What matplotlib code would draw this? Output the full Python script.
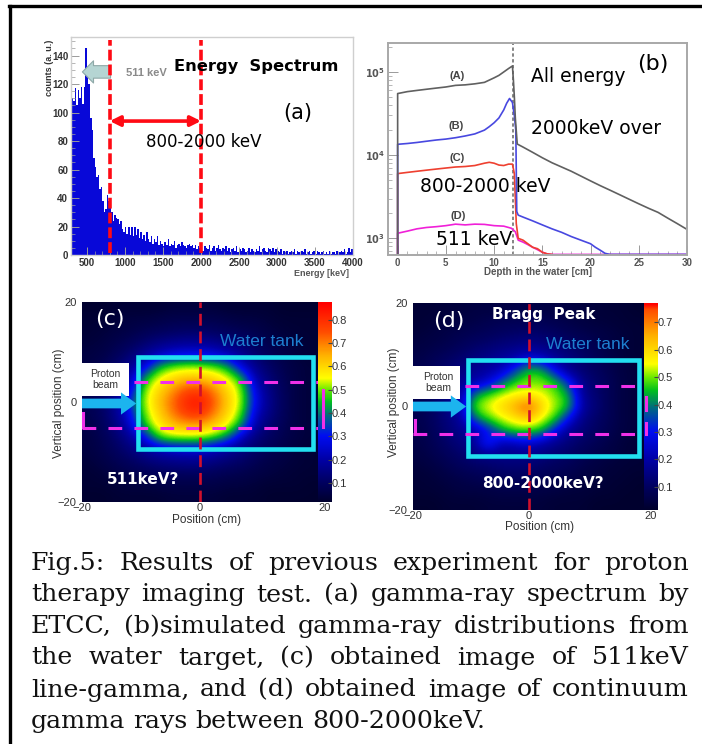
import numpy as np
import matplotlib
matplotlib.use("Agg")
import matplotlib.pyplot as plt
from matplotlib.colors import LinearSegmentedColormap
from matplotlib.patches import Rectangle, FancyArrowPatch
from matplotlib.lines import Line2D

W, H = 702, 744

# --- panel (a) spectrum: counts per 20 keV bin from 300 keV
spec_start = 300
spec_step = 20
spec_counts = [
 110,108,117,105,116,110,118,106,118,145,130,120,96,88,68,62,55,56,46,48,
 38,30,32,42,38,35,30,24,28,26,25,22,24,18,16,20,15,20,14,20,
 13,20,14,18,12,16,11,14,10,16,11,9,13,8,11,9,13,7,10,8,
 6,9,7,11,6,8,7,10,5,7,8,6,9,7,6,5,7,8,6,7,
 5,7,4,6,5,8,3,6,5,4,7,3,5,6,3,5,7,4,3,5,
 4,6,3,5,2,4,5,3,6,2,4,3,5,4,2,3,5,2,4,3,
 2,4,3,6,2,4,5,3,2,5,4,3,5,2,4,3,2,4,1,3,
 2,3,1,2,3,2,4,1,3,2,1,3,2,4,1,2,3,1,2,3,
 1,3,2,1,2,3,1,2,1,3,1,2,2,1,3,1,2,3,2,4,1,2,5,2,4
]

# --- panel (b) curves: depth [cm], gamma counts
dA = [0,0,1,2,3,4,5,6,7,8,9,10,10.5,11,11.5,11.9,12.0,12.1,12.2,12.4,13,14,15,16,17,18,19,20,21,22,23,24,25,26,27,28,29,30]
vA = [640,5.5e4,5.8e4,6e4,6.2e4,6.4e4,6.6e4,6.9e4,7e4,7.2e4,7.5e4,8.5e4,9.1e4,1e5,1.1e5,1.18e5,8e4,5e4,2.8e4,1.36e4,1.25e4,1.08e4,9.3e3,8.1e3,7.2e3,6.4e3,5.6e3,4.9e3,4.3e3,3.8e3,3.35e3,2.95e3,2.6e3,2.3e3,2.05e3,1.75e3,1.5e3,1.28e3]
dB = [0,0,1,2,3,4,5,6,7,8,9,9.5,10,10.5,11,11.3,11.6,11.9,12.1,12.25,12.35,12.5,13,14,15,16,17,18,19,20,20.5,21,21.5,22,30]
vB = [640,1.35e4,1.38e4,1.42e4,1.47e4,1.52e4,1.56e4,1.62e4,1.7e4,1.8e4,2e4,2.2e4,2.45e4,2.8e4,3.5e4,4.2e4,4.8e4,4.3e4,3e4,2e4,2.1e3,1.9e3,1.8e3,1.62e3,1.45e3,1.3e3,1.18e3,1.05e3,950,860,780,720,660,640,640]
dC = [0,0,1,2,3,4,5,6,7,8,9,9.5,10,10.5,11,11.5,11.9,12.1,12.3,12.5,13,13.5,14,14.5,15,15.5,16]
vC = [640,6e3,6.2e3,6.4e3,6.6e3,6.8e3,7e3,7.2e3,7.3e3,7.5e3,8e3,8.2e3,8e3,7.6e3,7.5e3,7.8e3,7.8e3,6e3,1.5e3,1e3,950,860,780,750,680,650,640]
dD = [0,0,1,2,3,4,5,6,7,8,9,10,11,11.8,12.2,12.5,13,13.5,14,14.5,15,15.5,16,30]
vD = [640,1150,1220,1300,1350,1380,1420,1480,1450,1480,1470,1420,1400,1320,1200,950,900,840,780,730,680,650,640,640]

# --- panels (c), (d) images on a 2.5 cm grid; rows from y=+20 down to y=-20
img_c = [
 [.02,.02,.03,.03,.03,.03,.04,.04,.04,.04,.03,.03,.03,.03,.02,.02,.02],
 [.03,.03,.04,.05,.05,.06,.07,.07,.07,.07,.06,.05,.05,.04,.03,.03,.03],
 [.03,.04,.05,.06,.08,.09,.10,.11,.11,.10,.09,.08,.07,.05,.04,.03,.03],
 [.04,.05,.07,.09,.12,.15,.17,.18,.18,.17,.14,.12,.09,.07,.05,.04,.03],
 [.05,.06,.09,.13,.18,.23,.27,.29,.29,.27,.23,.17,.12,.08,.06,.04,.03],
 [.05,.08,.12,.17,.26,.44,.50,.52,.52,.50,.44,.26,.16,.11,.07,.05,.04],
 [.06,.09,.14,.22,.44,.55,.60,.63,.63,.60,.55,.46,.20,.13,.08,.05,.04],
 [.07,.10,.16,.26,.51,.60,.68,.76,.78,.70,.60,.51,.26,.15,.09,.05,.04],
 [.07,.11,.18,.34,.52,.63,.72,.82,.85,.74,.62,.52,.28,.16,.09,.05,.04],
 [.07,.10,.17,.29,.50,.60,.70,.78,.80,.70,.60,.49,.24,.15,.09,.05,.04],
 [.06,.09,.15,.24,.46,.57,.63,.66,.66,.62,.55,.42,.19,.12,.08,.05,.04],
 [.05,.08,.12,.18,.28,.48,.52,.52,.52,.48,.40,.22,.14,.10,.07,.05,.04],
 [.05,.07,.10,.14,.18,.22,.25,.26,.26,.23,.18,.15,.11,.08,.06,.04,.03],
 [.04,.06,.08,.10,.13,.15,.16,.17,.17,.15,.13,.11,.08,.06,.05,.04,.03],
 [.03,.04,.06,.07,.08,.09,.10,.10,.10,.09,.08,.07,.06,.05,.04,.03,.03],
 [.03,.03,.04,.05,.05,.06,.06,.06,.06,.06,.05,.05,.04,.03,.03,.03,.02],
 [.02,.02,.03,.03,.03,.03,.04,.04,.04,.04,.03,.03,.03,.02,.02,.02,.02],
]
img_d = [
 [.03,.03,.04,.04,.05,.05,.05,.06,.06,.05,.05,.05,.04,.04,.03,.03,.02],
 [.03,.04,.05,.05,.06,.07,.08,.08,.08,.08,.07,.06,.05,.04,.04,.03,.03],
 [.04,.05,.06,.07,.08,.09,.10,.11,.12,.11,.10,.08,.07,.06,.05,.04,.03],
 [.05,.06,.07,.09,.11,.12,.14,.15,.16,.15,.13,.11,.09,.07,.05,.04,.03],
 [.06,.08,.10,.12,.14,.16,.18,.20,.26,.23,.17,.14,.11,.08,.06,.04,.03],
 [.07,.09,.12,.14,.17,.19,.22,.34,.46,.44,.28,.16,.12,.10,.07,.05,.04],
 [.07,.10,.13,.17,.20,.25,.37,.47,.50,.50,.46,.32,.15,.11,.08,.05,.04],
 [.07,.10,.14,.18,.41,.48,.53,.56,.56,.55,.50,.43,.17,.12,.08,.05,.04],
 [.07,.10,.15,.22,.50,.55,.60,.66,.76,.60,.52,.45,.19,.13,.08,.05,.04],
 [.07,.10,.14,.18,.38,.48,.54,.58,.62,.55,.47,.28,.15,.11,.08,.05,.04],
 [.06,.09,.13,.16,.20,.28,.42,.48,.48,.45,.28,.17,.13,.10,.07,.05,.04],
 [.06,.08,.11,.14,.17,.37,.20,.22,.25,.20,.16,.13,.10,.08,.06,.04,.03],
 [.05,.07,.09,.11,.14,.15,.16,.16,.16,.14,.12,.10,.08,.06,.05,.04,.03],
 [.04,.05,.07,.09,.10,.11,.12,.12,.12,.10,.09,.08,.06,.05,.04,.03,.03],
 [.03,.04,.05,.06,.07,.08,.09,.09,.09,.08,.07,.06,.05,.04,.03,.03,.02],
 [.03,.03,.04,.05,.05,.05,.06,.06,.06,.05,.05,.04,.04,.03,.03,.02,.02],
 [.02,.02,.03,.03,.03,.04,.04,.04,.04,.04,.03,.03,.03,.02,.02,.02,.02],
]

caption = [
 "Fig.5: Results of previous experiment for proton",
 "therapy imaging test. (a) gamma-ray spectrum by",
 "ETCC, (b)simulated gamma-ray distributions from",
 "the water target, (c) obtained image of 511keV",
 "line-gamma, and (d) obtained image of continuum",
 "gamma rays between 800-2000keV.",
]

fig = plt.figure(figsize=(W/100, H/100), dpi=100, facecolor="white")

def ax_px(l, t, r, b):
    return fig.add_axes([l/W, 1-b/H, (r-l)/W, (b-t)/H])

def txt(x, y, s, **kw):
    kw.setdefault("ha", "center")
    kw.setdefault("va", "center")
    kw.setdefault("zorder", 50)
    return fig.text(x/W, 1-y/H, s, **kw)

def stub(x, y0, y1):
    fig.add_artist(Line2D([x/W, x/W], [1-y0/H, 1-y1/H], color="#f030e8", lw=2.2, zorder=20))

GREY = "#9a9a9a"
TICK = "#333333"

# outer frame: left and top only
fig.add_artist(Line2D([10/W, 10/W], [0, 1-5.7/H], color="black", lw=2.4))
fig.add_artist(Line2D([9/W, 1], [1-5.7/H, 1-5.7/H], color="black", lw=2.4))

# (a)
a = ax_px(71, 37, 353, 255)
edges = spec_start + spec_step*np.arange(len(spec_counts)+1)
a.stairs(spec_counts, edges, fill=True, color="#0808d8")
a.set_xlim(290, 4000); a.set_ylim(0, 153)
a.set_xticks(np.arange(500, 4001, 500))
a.set_xticks(np.arange(500, 4001, 100), minor=True)
a.set_yticks(np.arange(0, 141, 20))
a.set_yticks(np.arange(0, 151, 5), minor=True)
a.tick_params(axis="both", which="major", direction="in", length=6, width=.7, color=GREY,
              labelsize=7, labelcolor=TICK, pad=2)
a.tick_params(axis="both", which="minor", direction="in", length=3, width=.5, color=GREY)
for l in a.get_xticklabels()+a.get_yticklabels():
    l.set_fontweight("bold"); l.set_family("Liberation Sans")
for s in a.spines.values():
    s.set_color("#cfcfcf"); s.set_linewidth(1)
for v in (800, 2000):
    a.plot([v, v], [1.5, 151], color="#ff0a14", lw=2.6, dashes=(3, 1.1), zorder=6, clip_on=False)
a.add_patch(FancyArrowPatch((800, 94), (2000, 94), arrowstyle="<|-|>", mutation_scale=15, lw=2.6,
                            color="#ff0a14", shrinkA=0, shrinkB=0, zorder=7))
a.add_patch(FancyArrowPatch((810, 128.5), (440, 128.5), arrowstyle="simple,head_width=16,head_length=8,tail_width=9",
                            mutation_scale=1, fc="#b5d5d3", ec="#8fa9a8", lw=.8, shrinkA=0, shrinkB=0, zorder=5))
txt(146, 73, "511 keV", color="#8a8a8a", fontsize=8, fontweight="bold", family="Liberation Sans")
txt(256, 66, "Energy  Spectrum", fontsize=11.7, fontweight="bold")
txt(298, 113, "(a)", fontsize=15)
txt(204, 142, "800-2000 keV", fontsize=12)
txt(49, 68, "counts (a. u.)", rotation=90, fontsize=6.5, fontweight="bold", color=TICK, family="Liberation Sans")
txt(322, 273, "Energy [keV]", fontsize=6.5, fontweight="bold", color="#555555", family="Liberation Sans")

# (b)
b = ax_px(388, 43, 687, 255)
b.set_yscale("log")
b.plot(dD, vD, color="#f020d8", lw=1.2)
b.plot(dC, vC, color="#ee4030", lw=1.2)
b.plot(dB, vB, color="#4848e0", lw=1.2)
b.plot(dA, vA, color="#606060", lw=1.2)
b.axvline(12, color="#707070", lw=1.2, ls=(0, (2, 1.5)), zorder=1)
b.set_xlim(-1, 30); b.set_ylim(630, 2.23e5)
b.set_xticks(np.arange(0, 31, 5))
b.set_xticks(np.arange(0, 31, 1), minor=True)
b.set_yticks([1e3, 1e4, 1e5])
b.set_yticks([m*10**e for e in (2, 3, 4, 5) for m in range(2, 10) if 630 < m*10**e < 2.2e5], minor=True)
b.set_yticklabels([r"$\mathbf{10^{3}}$", r"$\mathbf{10^{4}}$", r"$\mathbf{10^{5}}$"])
b.set_yticklabels([], minor=True)
b.tick_params(axis="both", which="major", direction="in", length=7, width=.7, color=GREY,
              labelsize=7, labelcolor="#555555", pad=2)
b.tick_params(axis="both", which="minor", direction="in", length=3, width=.5, color=GREY)
for l in b.get_xticklabels():
    l.set_fontweight("bold"); l.set_family("Liberation Sans")
for s in b.spines.values():
    s.set_color("#a8a8a8"); s.set_linewidth(1.4)
for x, y, s in [(457, 76, "(A)"), (456, 126, "(B)"), (457, 158, "(C)"), (458, 216, "(D)")]:
    txt(x, y, s, fontsize=8, fontweight="bold", color="#444444", family="Liberation Sans")
txt(653, 64, "(b)", fontsize=16)
txt(578, 77, "All energy", fontsize=13.5)
txt(596, 128, "2000keV over", fontsize=13.5)
txt(485, 187, "800-2000 keV", fontsize=13.5)
txt(474, 240, "511 keV", fontsize=13.5)
txt(538, 272, "Depth in the water [cm]", fontsize=7, fontweight="bold", color="#555555", family="Liberation Sans")

# colour map shared by (c) and (d)
def make_map(vmax):
    stops = [(0, (0, 0, .14)), (.1, (0, 0, .38)), (.2, (0, 0, .65)), (.3, (0, .05, .95)), (.39, (0, .42, .5)),
             (.45, (0, .75, .12)), (.5, (.42, .92, 0)), (.55, (1, 1, 0)), (.65, (1, .7, 0)), (.75, (1, .3, 0)), (vmax, (1, 0, 0))]
    return LinearSegmentedColormap.from_list("m", [(p/vmax, c) for p, c in stops if p <= vmax])

def image_panel(pos, cb, data, vmin, vmax, ticks, tank, mag, box, yzero):
    l, t, r, bt = pos
    ax = ax_px(l, t, r, bt)
    cmap = make_map(vmax)
    ax.imshow(data, extent=(-20, 20, -20, 20), aspect="auto", cmap=cmap, vmin=0, vmax=vmax,
              interpolation="bicubic", origin="upper")
    ax.set_xticks([-20, 0, 20]); ax.set_yticks([-20, 0, 20])
    ax.tick_params(length=0, labelsize=8, labelcolor="#333333")
    ax.tick_params(axis="x", pad=1)
    ax.tick_params(axis="y", pad=4)
    for lb in ax.get_xticklabels()+ax.get_yticklabels():
        lb.set_family("Liberation Sans")
    ax.get_xticklabels()[2].set_ha("left")
    for s in ax.spines.values():
        s.set_visible(False)
    ax.set_xlim(-20, 20); ax.set_ylim(-20, 20)
    ax.add_patch(Rectangle((tank[0], tank[2]), tank[1]-tank[0], tank[3]-tank[2], fill=False,
                           ec="#22e0f0", lw=3.3, zorder=4))
    for y in mag:
        ax.plot([-20, 20], [y, y], color="#f030e8", lw=2.2, dashes=(4.5, 4), zorder=5)
    ax.plot([0, 0], [-20, 20], color="#d0102c", lw=1.9, dashes=(4.5, 2.2), zorder=6)
    ax.add_patch(Rectangle((-20, box[0]), box[1]+20, box[2]-box[0], fc="white", ec="none", zorder=7))
    ax.add_patch(FancyArrowPatch((-20, yzero), (-10.8, yzero),
                 arrowstyle="simple,head_width=16,head_length=11,tail_width=7", mutation_scale=1,
                 fc="#1cb4ee", ec="none", shrinkA=0, shrinkB=0, zorder=8))
    cax = ax_px(*cb)
    grad = np.linspace(vmin, vmax, 256)[:, None]
    cax.imshow(grad, aspect="auto", origin="lower", extent=(0, 1, vmin, vmax), cmap=cmap, vmin=0, vmax=vmax)
    cax.set_xticks([])
    cax.yaxis.tick_right()
    cax.set_yticks(ticks)
    cax.tick_params(axis="y", direction="in", length=3, color="#444444", labelsize=8,
                    labelcolor="#333333", pad=0)
    for lb in cax.get_yticklabels():
        lb.set_family("Liberation Sans")
    for s in cax.spines.values():
        s.set_visible(False)

image_panel((82, 302, 318, 502), (318, 302, 332, 502), img_c, .018, .877,
            [.1, .2, .3, .4, .5, .6, .7, .8], (-10.5, 19.2, -9.4, 9), (4, -5.2), (1.3, -12, 7.8), -0.3)
stub(83, 413, 427); stub(323, 390, 427); 
txt(110, 319, "(c)", fontsize=16, color="white")
txt(143, 480, "511keV?", fontsize=11, fontweight="bold", color="white")
txt(262, 342, "Water tank", fontsize=12.5, color="#1d7fd0", family="Liberation Sans")
txt(105, 374, "Proton", fontsize=7.5, color="#333333", family="Liberation Sans")
txt(105, 385, "beam", fontsize=7.5, color="#333333", family="Liberation Sans")
txt(59, 403, "Vertical position (cm)", fontsize=8.5, rotation=90, color="#333333", family="Liberation Sans")
txt(207, 520, "Position (cm)", fontsize=8.5, color="#333333", family="Liberation Sans")

image_panel((413, 303, 644, 510), (644, 303, 658, 510), img_d, .016, .77,
            [.1, .2, .3, .4, .5, .6, .7], (-10.5, 19.1, -9.6, 9), (4, -5.3), (1.4, -11.9, 7.9), 0)
stub(415, 420, 434); stub(646, 397, 410); stub(646, 423, 434)
txt(449, 321, "(d)", fontsize=16, color="white")
txt(544, 314, "Bragg  Peak", fontsize=11, fontweight="bold", color="white")
txt(543, 483, "800-2000keV?", fontsize=11, fontweight="bold", color="white")
txt(588, 345, "Water tank", fontsize=12.5, color="#1d7fd0", family="Liberation Sans")
txt(438, 377, "Proton", fontsize=7.5, color="#333333", family="Liberation Sans")
txt(438, 388, "beam", fontsize=7.5, color="#333333", family="Liberation Sans")
txt(394, 402, "Vertical position (cm)", fontsize=8.5, rotation=90, color="#333333", family="Liberation Sans")
txt(540, 527, "Position (cm)", fontsize=8.5, color="#333333", family="Liberation Sans")

# justified caption
fig.canvas.draw()
rend = fig.canvas.get_renderer()
baselines = [570, 601.5, 633, 664.5, 696.5, 728]
X0, X1 = 31, 689
FS = 18.2
for i, (line, yb) in enumerate(zip(caption, baselines)):
    words = line.split(" ")
    arts = [txt(0, yb, w, ha="left", va="baseline", family="DejaVu Serif", fontsize=FS, color="#111111") for w in words]
    widths = [t.get_window_extent(rend).width for t in arts]
    gap = (X1 - X0 - sum(widths)) / (len(words)-1) if i < 5 else 8
    x = X0
    for t, w in zip(arts, widths):
        t.set_x(x/W)
        x += w + gap

fig.savefig("out.png", dpi=100)
